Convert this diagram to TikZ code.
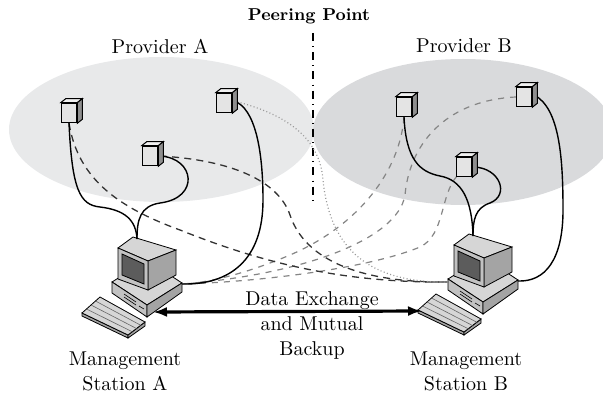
\documentclass[tikz,border=0pt]{standalone}
\usepackage{tikz}
\usetikzlibrary{arrows.meta}

\definecolor{provA}{HTML}{E8E9EA}
\definecolor{provB}{HTML}{D9DADC}
\definecolor{devtop}{HTML}{F0F0F0}
\definecolor{devfront}{HTML}{E4E4E4}
\definecolor{devside}{HTML}{8E8E8E}
\definecolor{pctop}{HTML}{D6D6D6}
\definecolor{pcfront}{HTML}{C2C2C2}
\definecolor{pcside}{HTML}{A4A4A4}
\definecolor{pcscreen}{HTML}{5C5C5C}

\tikzset{
	device/.style={draw, fill=devfront, line width=0.5pt, minimum width=7.8pt, minimum height=9.8pt, inner sep=0pt},
	link/.style={line width=0.7pt},
	tolink/.style={line width=0.65pt, color=black!80, dash pattern=on 3.5pt off 2.6pt},
	fromlink/.style={line width=0.6pt, color=black!48, dash pattern=on 3pt off 3pt},
	dotlink/.style={line width=0.6pt, color=black!40, dash pattern=on 0.5pt off 1.2pt},
	peer/.style={line width=0.6pt, dash pattern=on 4pt off 2.6pt on 0.4pt off 2.6pt},
	exchange/.style={{Latex[length=7pt,width=5pt]}-{Latex[length=7pt,width=5pt]}, line width=1.6pt},
	label/.style={align=center, font=\fontsize{10}{12.5}\selectfont},
	station/.pic={
		% system unit
		\draw[fill=pctop, line width=0.4pt] (-6,34) -- (29,12) -- (64,35) -- (29,57) -- cycle;
		\draw[fill=pcfront, line width=0.4pt] (-6,34) -- (29,57) -- (29,69) -- (-6,45) -- cycle;
		\draw[fill=pcside, line width=0.4pt] (29,57) -- (64,35) -- (64,44) -- (29,69) -- cycle;
		\draw[line width=0.3pt] (6,46) -- (18,54) (6,49) -- (18,57) (21,58) -- (26,61);
		% monitor
		\draw[fill=pctop, line width=0.4pt] (0,0) -- (15,-11) -- (58,2) -- (30,13) -- cycle;
		\draw[fill=pcside, line width=0.4pt] (30,13) -- (58,2) -- (58,27) -- (30,42) -- cycle;
		\draw[fill=pcfront, line width=0.4pt] (0,0) -- (30,13) -- (30,42) -- (0,31) -- cycle;
		\draw[fill=pcscreen, line width=0.4pt] (4,6) -- (26,16) -- (26,36) -- (4,27) -- cycle;
		% keyboard
		\draw[fill=pcside, line width=0.4pt] (-36,65) -- (10,87) -- (10,90) -- (-36,68) -- cycle;
		\draw[fill=pcside, line width=0.4pt] (10,87) -- (27,74) -- (27,78) -- (10,90) -- cycle;
		\draw[fill=pctop, line width=0.4pt] (-36,65) -- (-18,49) -- (27,74) -- (10,87) -- cycle;
		\foreach \t in {0.25,0.5,0.75}
			\draw[line width=0.3pt, color=black!60] (-36+18*\t,65-16*\t) -- (10+17*\t,87-13*\t);
		% where the lines end
		\coordinate (-top) at (19,-9);
		\coordinate (-right) at (64,36);
		\coordinate (-left) at (-6,37);
		\coordinate (-unit) at (35,64);
		\coordinate (-keys) at (-32,66);
	}
}

\newcommand\device[2]{%
	\node[device] (#1) at (#2) {};
	\draw[fill=devtop, line width=0.5pt] (#1.north west) -- ([shift={(5,-4)}]#1.north west) -- ([shift={(5,-4)}]#1.north east) -- (#1.north east) -- cycle;
	\draw[fill=devside, line width=0.5pt] (#1.north east) -- ([shift={(5,-4)}]#1.north east) -- ([shift={(5,-4)}]#1.south east) -- (#1.south east) -- cycle;
}

\begin{document}
\begin{tikzpicture}[x=0.5pt, y=-0.5pt]
	\useasboundingbox (0,0) rectangle (603,395);
	
	%%%%% PROVIDERS %%%%%
	\fill[provA] (161.5,129.5) ellipse [x radius=76.25pt, y radius=36.25pt];
	\fill[provB] (463,132) ellipse [x radius=75pt, y radius=36.5pt];
	
	\node[label] (provA) at (160,46) {Provider A};
	\node[label] (provB) at (464,46) {Provider B};
	\node[font=\fontsize{8.6}{11}\selectfont\bfseries] (peer) at (309,16) {Peering Point};
	
	\coordinate (peer-top) at (313,33);
	\coordinate (peer-bot) at (313,202);
	\draw[peer] (peer-top) -- (peer-bot);
	
	%%%%% STATIONS %%%%%
	\pic (sa) at (118,248) {station};
	\pic (sb) at (454,245) {station};
	
	%%%%% LINKS %%%%%
	\coordinate (a1) at (69,113);
	\coordinate (a2) at (224,103);
	\coordinate (a3) at (150,156);
	\coordinate (b1) at (404,107);
	\coordinate (b2) at (524,97);
	\coordinate (b3) at (464,167);
	
	% grey: provider B to station A
	\draw[fromlink] ([yshift=-5pt]b1) .. controls (400,170) and (360,225) .. (290,255) .. controls (250,272) and (210,283) .. (sa-right);
	\draw[fromlink] ([xshift=-4pt]b2) .. controls (450,100) and (410,140) .. (405,195) .. controls (398,240) and (300,275) .. (sa-right);
	\draw[fromlink] ([shift={(-3.5pt,-4.5pt)}]b3) .. controls (440,195) and (445,235) .. (420,247) .. controls (370,268) and (260,282) .. (sa-right);
	
	% dark: provider A to station B
	\draw[tolink] ([yshift=-5pt]a1) .. controls (78,180) and (120,208) .. (180,230) .. controls (260,262) and (340,283) .. (sb-left);
	\draw[tolink] ([xshift=5pt]a3) .. controls (230,160) and (278,180) .. (290,215) .. controls (305,260) and (360,283) .. (sb-left);
	\draw[dotlink] ([shift={(5pt,1pt)}]a2) .. controls (290,115) and (320,140) .. (323,180) .. controls (330,250) and (370,283) .. (sb-left);
	
	% solid: each provider to its own station
	\draw[link] ([yshift=-5pt]a1) .. controls (72,190) and (80,205) .. (100,207) .. controls (125,210) and (136,220) .. (sa-top);
	\draw[link] ([xshift=5pt]a3) .. controls (195,158) and (200,198) .. (160,203) .. controls (140,206) and (137,220) .. (sa-top);
	\draw[link] ([shift={(5pt,1pt)}]a2) .. controls (255,108) and (263,150) .. (263,200) .. controls (263,260) and (230,285) .. (sa-right);
	\draw[link] ([yshift=-5pt]b1) .. controls (406,160) and (420,172) .. (440,176) .. controls (462,180) and (472,200) .. (sb-top);
	\draw[link] ([xshift=5pt]b3) .. controls (500,168) and (510,195) .. (490,203) .. controls (475,208) and (473,220) .. (sb-top);
	\draw[link] ([shift={(5pt,1pt)}]b2) .. controls (560,108) and (563,160) .. (563,210) .. controls (563,260) and (545,282) .. (sb-right);
	
	%%%%% DEVICES %%%%%
	\device{devA1}{a1}
	\device{devA2}{a2}
	\device{devA3}{a3}
	\device{devB1}{b1}
	\device{devB2}{b2}
	\device{devB3}{b3}
	
	%%%%% EXCHANGE %%%%%
	\draw[exchange] (sa-unit) -- (sb-keys);
	\node[label] (exch) at (312,325) {Data Exchange\\and Mutual\\Backup};
	
	\node[label] (nameA) at (125,371) {Management\\Station A};
	\node[label] (nameB) at (466,371) {Management\\Station B};
\end{tikzpicture}
\end{document}
